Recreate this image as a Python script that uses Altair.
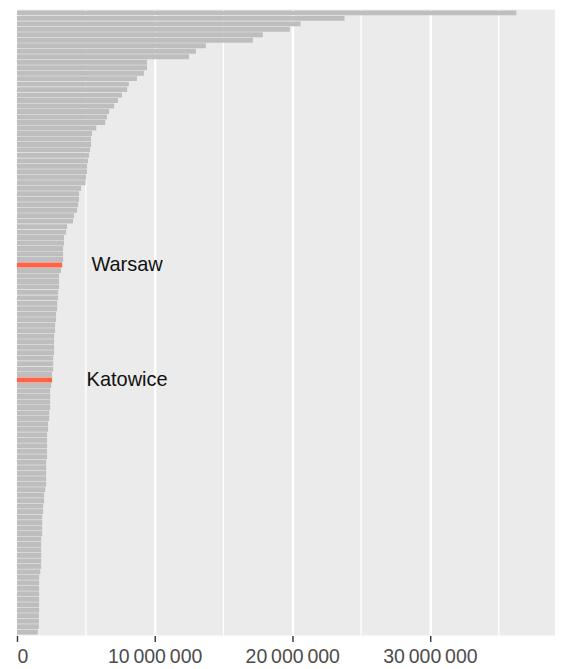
import altair as alt
import pandas as pd

# Bar values (millions), sorted descending
values_m = [
    36.28, 23.80, 20.60, 19.82, 17.86, 17.14, 13.72, 13.00, 12.50, 9.45,
    9.45, 9.22, 8.72, 8.13, 8.00, 7.63, 7.34, 7.06, 6.69, 6.54,
    6.41, 5.76, 5.45, 5.38, 5.38, 5.31, 5.24, 5.16, 5.09, 5.09,
    5.02, 4.98, 4.65, 4.51, 4.51, 4.44, 4.37, 4.15, 4.07, 3.64,
    3.57, 3.42, 3.42, 3.35, 3.35, 3.35, 3.28, 3.20, 3.06, 3.06,
    3.06, 2.99, 2.99, 2.92, 2.92, 2.84, 2.84, 2.77, 2.77, 2.70,
    2.70, 2.70, 2.70, 2.63, 2.63, 2.63, 2.55, 2.55, 2.48, 2.41,
    2.41, 2.41, 2.41, 2.34, 2.34, 2.26, 2.26, 2.19, 2.19, 2.19,
    2.19, 2.19, 2.12, 2.12, 2.12, 2.12, 2.12, 2.05, 1.97, 1.97,
    1.90, 1.90, 1.83, 1.83, 1.83, 1.83, 1.76, 1.76, 1.76, 1.76,
    1.76, 1.76, 1.69, 1.61, 1.61, 1.61, 1.61, 1.61, 1.61, 1.61,
    1.59, 1.59, 1.59, 1.51,
]
highlight_names = ["Warsaw", "Katowice"]
highlight_ranks = [47, 68]
label_x = [8_000_000, 8_000_000]
major_ticks = [0, 10_000_000, 20_000_000, 30_000_000]
minor_ticks = [5_000_000, 15_000_000, 25_000_000, 35_000_000]
x_max = 39_090_000

ranks = list(range(1, len(values_m) + 1))
names = [""] * len(values_m)
for n, r in zip(highlight_names, highlight_ranks):
    names[r - 1] = n

bars_df = pd.DataFrame({
    "rank": ranks,
    "value": [v * 1_000_000 for v in values_m],
    "city": names,
    "hl": [n != "" for n in names],
})
labels_df = pd.DataFrame({"rank": highlight_ranks, "city": highlight_names, "x": label_x})
minor_df = pd.DataFrame({"v": minor_ticks})

xscale = alt.Scale(domain=[0, x_max], nice=False, zero=True)
yscale = alt.Scale(paddingInner=0.1, paddingOuter=0.15)

x_axis = alt.Axis(
    values=major_ticks,
    title=None,
    grid=True,
    gridColor="white",
    gridWidth=2.4,
    domain=False,
    tickColor="#333333",
    tickWidth=1.4,
    tickSize=6,
    labelPadding=6,
    labelFont="Liberation Sans",
    labelFontSize=19.5,
    labelColor="#4D4D4D",
    labelExpr="replace(format(datum.value, ','), regexp(',', 'g'), '\u2009')",
)

minor = alt.Chart(minor_df).mark_rule(color="white", strokeWidth=1.3).encode(
    x=alt.X("v:Q", scale=xscale, axis=x_axis),
)

bars = alt.Chart(bars_df).mark_bar().encode(
    x=alt.X("value:Q", scale=xscale, axis=x_axis),
    y=alt.Y("rank:O", scale=yscale, axis=None, sort="ascending"),
    color=alt.condition("datum.hl", alt.value("#FF6347"), alt.value("#BEBEBE")),
)

text = alt.Chart(labels_df).mark_text(
    font="Liberation Sans", fontSize=20, color="#111111", align="center", baseline="middle"
).encode(
    x=alt.X("x:Q", scale=xscale, axis=x_axis),
    y=alt.Y("rank:O", scale=yscale, axis=None),
    text="city:N",
)

chart = alt.layer(minor, bars, text).properties(
    width=539, height=627, padding={"left": 8, "top": 0, "right": 0, "bottom": 0}
).configure_view(fill="#EBEBEB", stroke=None)

chart.save("out.html", embed_options={"renderer": "svg", "actions": False})
